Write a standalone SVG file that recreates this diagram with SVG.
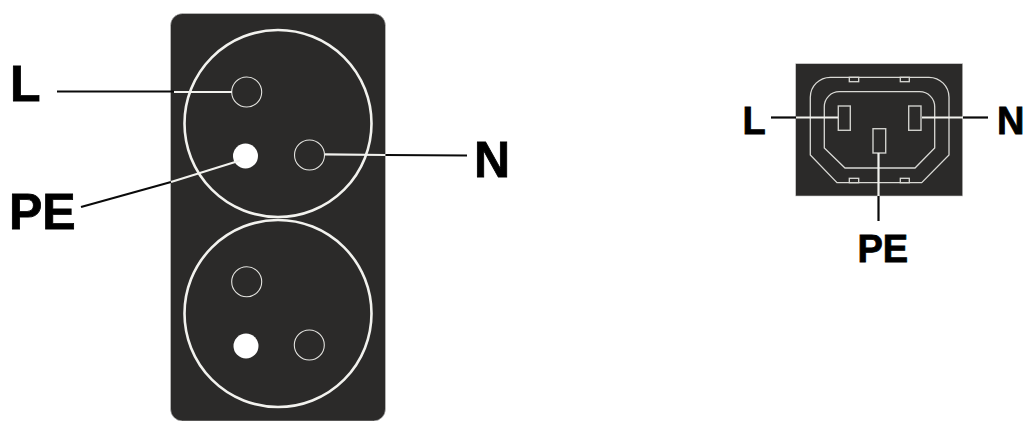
<svg xmlns="http://www.w3.org/2000/svg" width="1024" height="421" viewBox="0 0 1024 421">
<style>
.panel{fill:#2b2a29;stroke:#c8c8c8;stroke-width:.6}
.ring{fill:none;stroke:#f2f2ee;stroke-width:2.6}
.hole{fill:none;stroke:#e4e4e0;stroke-width:1.1}
.earth{fill:#fff;stroke:none}
.out{fill:none;stroke:#d9d9d5;stroke-width:1.3}
.pin{fill:none;stroke:#cfcfcb;stroke-width:1.4}
.k{stroke:#0a0a0a;stroke-width:2.2;fill:none}
.w{stroke:#f2f2ee;stroke-width:2.2;fill:none}
text{font-family:"Liberation Sans",Arial,sans-serif;font-weight:700;fill:#000;stroke:#000;stroke-width:.8}
.big{font-size:50px}
.small{font-size:38px}
</style>
<rect width="1024" height="421" fill="#fff"/>
<g id="schuko-panel">
<rect class="panel" x="170.500" y="13.500" width="215" height="407.500" rx="12" ry="12"/>
</g>
<g id="socket-top">
<circle class="ring" cx="278" cy="123.500" r="93.500"/>
<circle class="hole" cx="246.700" cy="92" r="15"/>
<circle class="earth" cx="245.500" cy="156" r="12.500"/>
<circle class="hole" cx="309.500" cy="155" r="15"/>
</g>
<g id="socket-bottom">
<circle class="ring" cx="278" cy="313.500" r="93.500"/>
<circle class="hole" cx="246.700" cy="281.700" r="15"/>
<circle class="earth" cx="246" cy="346" r="12.500"/>
<circle class="hole" cx="309.300" cy="345" r="15"/>
</g>
<g id="iec-inlet">
<rect class="panel" x="795.700" y="63.700" width="167" height="132.300"/>
<path class="out" d="M810.300 155V97.300a20 20 0 0 1 20-20H929a20 20 0 0 1 20 20V155L921.700 182.700H837z"/>
<path class="out" d="M824.300 148V106.700a15 15 0 0 1 15-15H919.700a15 15 0 0 1 15 15V148L915 168H845z"/>
<rect class="pin" x="838.300" y="106" width="12" height="24.300"/>
<rect class="pin" x="908.700" y="106" width="12.300" height="24.300"/>
<rect class="pin" x="873" y="128.700" width="12.700" height="24.300"/>
<g class="out">
<rect x="849.300" y="77.300" width="9.400" height="4.400"/>
<rect x="900.300" y="77.300" width="9" height="4.400"/>
<rect x="849.300" y="178.300" width="9.400" height="4.400"/>
<rect x="900.300" y="178.300" width="9" height="4.400"/>
</g>
</g>
<g id="connectors">
<path class="k" d="M57 91.500H174"/>
<path class="w" d="M174 92H232"/>
<path class="w" d="M325 154.300L385.500 155"/>
<path class="k" d="M385.500 155L467 155.500"/>
<path class="k" d="M81 207L171 182"/>
<path class="w" d="M171 182L240 160.500"/>
<path class="k" d="M771 117.500H796"/>
<path class="w" d="M796 117.500H838"/>
<path class="w" d="M922 117.500H963"/>
<path class="k" d="M963 117.500H988"/>
<path class="w" d="M878.500 153V196"/>
<path class="k" d="M878.500 196V221"/>
</g>
<g id="labels">
<text class="big" x="10" y="100.500">L</text>
<text class="big" x="9" y="228.500">PE</text>
<text class="big" x="474" y="176.500">N</text>
<text class="small" x="742.500" y="133.500">L</text>
<text class="small" x="997" y="133.500">N</text>
<text class="small" x="857.500" y="261.500">PE</text>
</g>
</svg>
